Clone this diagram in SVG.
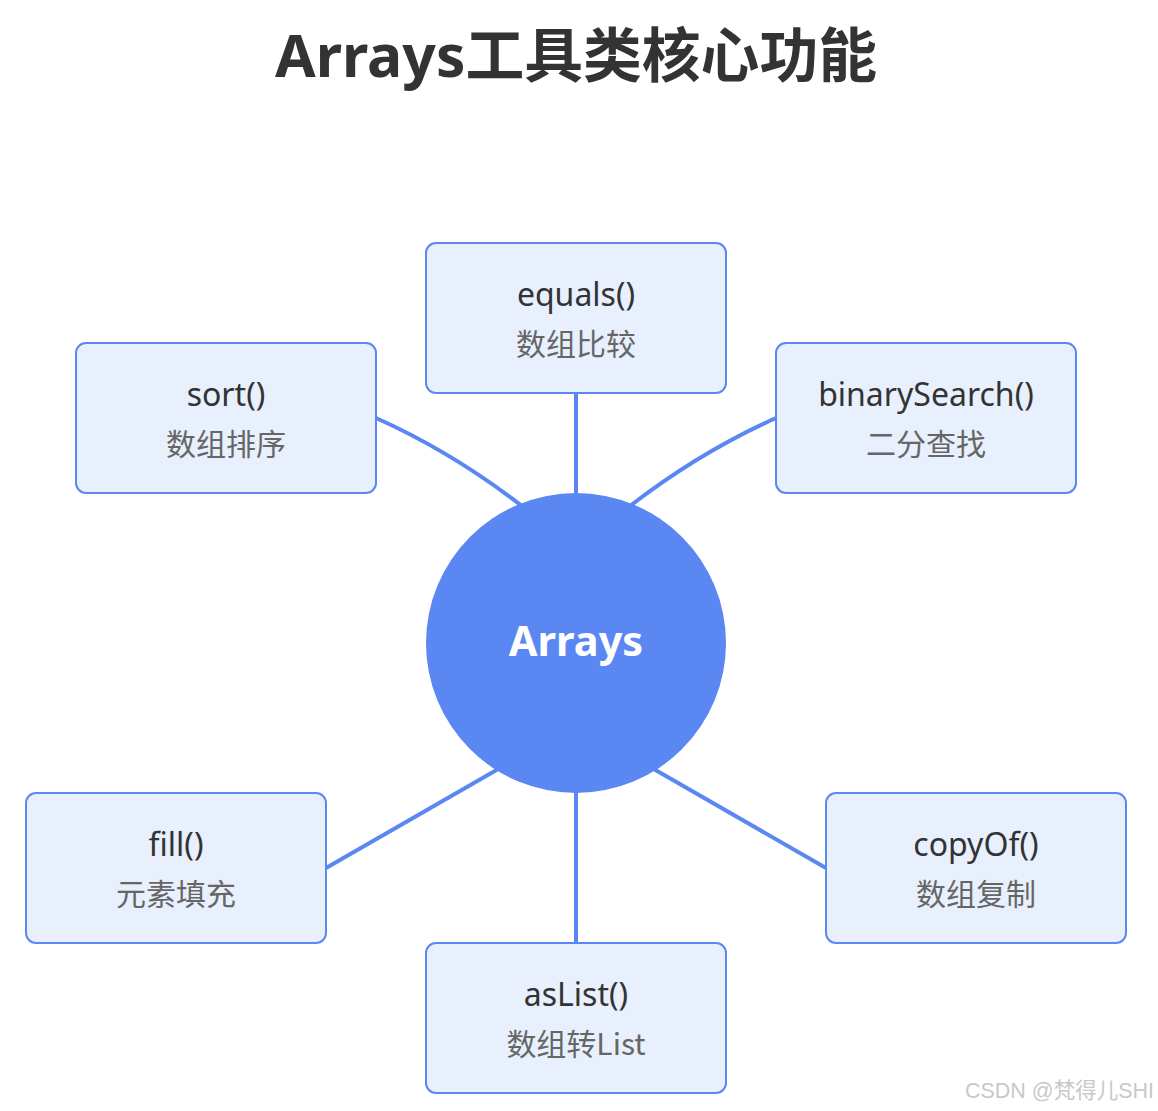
<svg xmlns="http://www.w3.org/2000/svg" width="1158" height="1111" viewBox="0 0 1158 1111">
<style>
.box{fill:#e8f0fd;stroke:#5b87f2;stroke-width:2}
.edge{fill:none;stroke:#5b87f2;stroke-width:4}
.m{font-family:"Noto Sans","Noto Sans CJK SC",sans-serif;font-size:32px;fill:#333;text-anchor:middle}
.c{font-family:"Noto Sans CJK SC",sans-serif;font-size:30px;fill:#666;text-anchor:middle}
</style>
<rect width="1158" height="1111" fill="#fff"/>
<text x="576" y="77" text-anchor="middle" font-family="'Noto Sans','Noto Sans CJK SC',sans-serif" font-weight="bold" font-size="58.8" fill="#333">Arrays工具类核心功能</text>
<g id="connectors">
<line class="edge" x1="576" y1="393" x2="576" y2="495"/>
<path class="edge" d="M376,418 Q452,452 522,506"/>
<path class="edge" d="M776,418 Q700,452 630,506"/>
<line class="edge" x1="326" y1="868" x2="500" y2="768"/>
<line class="edge" x1="826" y1="868" x2="652" y2="768"/>
<line class="edge" x1="576" y1="790" x2="576" y2="943"/>
</g>
<g id="center">
<circle cx="576" cy="643" r="150" fill="#5b87f2"/>
<text x="576" y="656" text-anchor="middle" font-family="'Noto Sans',sans-serif" font-weight="bold" font-size="41.5" fill="#fff">Arrays</text>
</g>
<g id="equals">
<rect class="box" x="426" y="243" width="300" height="150" rx="10"/>
<text class="m" x="576" y="306">equals()</text>
<text class="c" x="576" y="355">数组比较</text>
</g>
<g id="sort">
<rect class="box" x="76" y="343" width="300" height="150" rx="10"/>
<text class="m" x="226" y="406">sort()</text>
<text class="c" x="226" y="455">数组排序</text>
</g>
<g id="binarySearch">
<rect class="box" x="776" y="343" width="300" height="150" rx="10"/>
<text class="m" x="926" y="406">binarySearch()</text>
<text class="c" x="926" y="455">二分查找</text>
</g>
<g id="fill">
<rect class="box" x="26" y="793" width="300" height="150" rx="10"/>
<text class="m" x="176" y="856">fill()</text>
<text class="c" x="176" y="905">元素填充</text>
</g>
<g id="copyOf">
<rect class="box" x="826" y="793" width="300" height="150" rx="10"/>
<text class="m" x="976" y="856">copyOf()</text>
<text class="c" x="976" y="905">数组复制</text>
</g>
<g id="asList">
<rect class="box" x="426" y="943" width="300" height="150" rx="10"/>
<text class="m" x="576" y="1006">asList()</text>
<text class="c" x="576" y="1055">数组转List</text>
</g>
<text x="1154" y="1098" text-anchor="end" font-family="'Liberation Sans','Noto Sans CJK SC',sans-serif" font-size="21.5" fill="#c8c8c8">CSDN @梵得儿SHI</text>
</svg>
